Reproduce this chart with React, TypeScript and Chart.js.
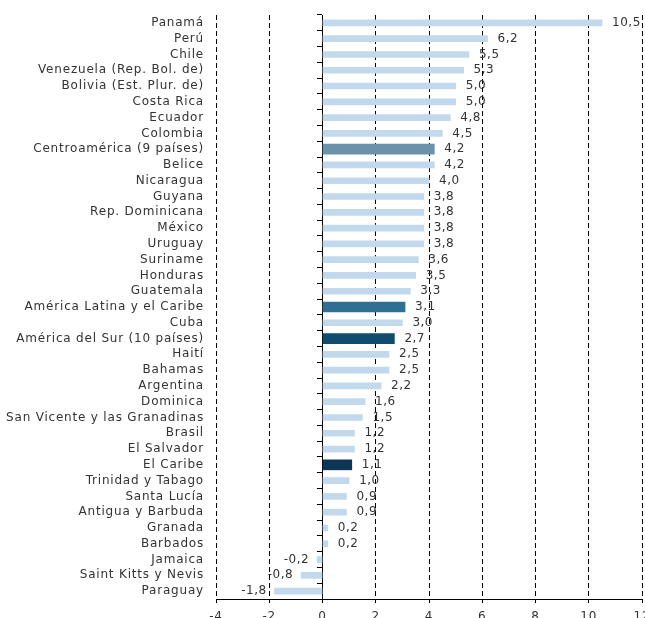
import { useEffect, useRef } from "react";
import { Chart, registerables } from "chart.js";

Chart.register(...registerables);

const categories = [
  "Panamá",
  "Perú",
  "Chile",
  "Venezuela (Rep. Bol. de)",
  "Bolivia (Est. Plur. de)",
  "Costa Rica",
  "Ecuador",
  "Colombia",
  "Centroamérica (9 países)",
  "Belice",
  "Nicaragua",
  "Guyana",
  "Rep. Dominicana",
  "México",
  "Uruguay",
  "Suriname",
  "Honduras",
  "Guatemala",
  "América Latina y el Caribe",
  "Cuba",
  "América del Sur (10 países)",
  "Haití",
  "Bahamas",
  "Argentina",
  "Dominica",
  "San Vicente y las Granadinas",
  "Brasil",
  "El Salvador",
  "El Caribe",
  "Trinidad y Tabago",
  "Santa Lucía",
  "Antigua y Barbuda",
  "Granada",
  "Barbados",
  "Jamaica",
  "Saint Kitts y Nevis",
  "Paraguay",
];

const values = [
  10.5, 6.2, 5.5, 5.3, 5.0, 5.0, 4.8, 4.5, 4.2, 4.2, 4.0, 3.8, 3.8, 3.8, 3.8,
  3.6, 3.5, 3.3, 3.1, 3.0, 2.7, 2.5, 2.5, 2.2, 1.6, 1.5, 1.2, 1.2, 1.1, 1.0,
  0.9, 0.9, 0.2, 0.2, -0.2, -0.8, -1.8,
];

const highlighted = [
  "Centroamérica (9 países)",
  "América Latina y el Caribe",
  "América del Sur (10 países)",
  "El Caribe",
];

const highlightColors = ["#6a93ab", "#2f6f92", "#0f4c6e", "#0e3557"];

const xMin = -4;
const xMax = 12;
const xStep = 2;

const FONT = "'DejaVu Sans', sans-serif";
const TEXT = "#333333";

const fmt = (v: number) => v.toFixed(1).replace(".", ",");

const spacing = {
  id: "spacing",
  beforeDraw(chart: any) {
    chart.ctx.letterSpacing = "0.8px";
  },
};

const valueLabels = {
  id: "valueLabels",
  afterDatasetsDraw(chart: any) {
    const ctx = chart.ctx;
    ctx.save();
    ctx.font = `12px ${FONT}`;
    ctx.letterSpacing = "0.5px";
    ctx.fillStyle = TEXT;
    ctx.textBaseline = "middle";
    chart.data.datasets.forEach((ds: any, di: number) => {
      const meta = chart.getDatasetMeta(di);
      meta.data.forEach((el: any, i: number) => {
        const v = ds.data[i];
        if (v === null || v === undefined) return;
        if (v >= 0) {
          ctx.textAlign = "left";
          ctx.fillText(fmt(v), el.x + 10, el.y);
        } else {
          ctx.textAlign = "right";
          ctx.fillText(fmt(v), el.x - 8, el.y);
        }
      });
    });
    ctx.restore();
  },
};

export default function App() {
  const ref = useRef<HTMLCanvasElement | null>(null);

  useEffect(() => {
    if (!ref.current) return;
    const isHi = (c: string) => highlighted.includes(c);
    const lightData = categories.map((c, i) => (isHi(c) ? null : values[i]));
    const hiData = categories.map((c, i) => (isHi(c) ? values[i] : null));
    const hiBg = categories.map((c) => {
      const k = highlighted.indexOf(c);
      return k >= 0 ? highlightColors[k] : "transparent";
    });

    const chart = new Chart(ref.current, {
      type: "bar",
      data: {
        labels: categories,
        datasets: [
          {
            data: lightData as any,
            backgroundColor: "#c2d8ec",
            barThickness: 6,
            grouped: false,
          } as any,
          {
            data: hiData as any,
            backgroundColor: hiBg,
            barThickness: 10,
            grouped: false,
          } as any,
        ],
      },
      options: {
        indexAxis: "y",
        animation: false,
        responsive: true,
        maintainAspectRatio: false,
        layout: { padding: { top: 15, right: 3, left: 0, bottom: 0 } },
        plugins: {
          legend: { display: false },
          tooltip: { enabled: false },
        },
        scales: {
          x: {
            type: "linear",
            min: xMin,
            max: xMax,
            ticks: {
              stepSize: xStep,
              color: TEXT,
              font: { family: FONT, size: 12 },
              padding: 7,
              maxRotation: 0,
              callback: (v: any) => String(v),
            },
            grid: {
              color: (c: any) => (c.tick && c.tick.value === 0 ? "transparent" : "#000"),
              lineWidth: 1,
              drawTicks: true,
              tickLength: 4,
              tickColor: "#000",
            },
            border: { display: true, color: "#000", width: 1, dash: [5, 3] },
            afterFit: (s: any) => {
              s.height = 19;
              s.paddingLeft = 0;
              s.paddingRight = 0;
            },
          } as any,
          y: {
            type: "category",
            position: "left",
            ticks: {
              color: TEXT,
              font: { family: FONT, size: 12 },
              padding: 12,
              autoSkip: false,
            },
            grid: { display: false, drawTicks: false },
            border: { display: false },
            afterFit: (s: any) => {
              s.width = 216;
              s.paddingTop = 0;
              s.paddingBottom = 0;
            },
          } as any,
          y0: {
            type: "category",
            position: { x: 0 },
            ticks: { display: false },
            grid: {
              drawOnChartArea: false,
              drawTicks: true,
              tickLength: 5,
              offset: true,
              color: "#000",
              tickColor: "#000",
            },
            border: { display: true, color: "#000", width: 1 },
            afterFit: (s: any) => {
              s.width = 0;
              s.paddingTop = 0;
              s.paddingBottom = 0;
            },
          } as any,
        },
      },
      plugins: [spacing, valueLabels],
    });
    return () => chart.destroy();
  }, []);

  return (
    <div style={{ position: "absolute", left: 0, top: 0, width: 645, height: 618 }}>
      <canvas ref={ref} />
    </div>
  );
}
